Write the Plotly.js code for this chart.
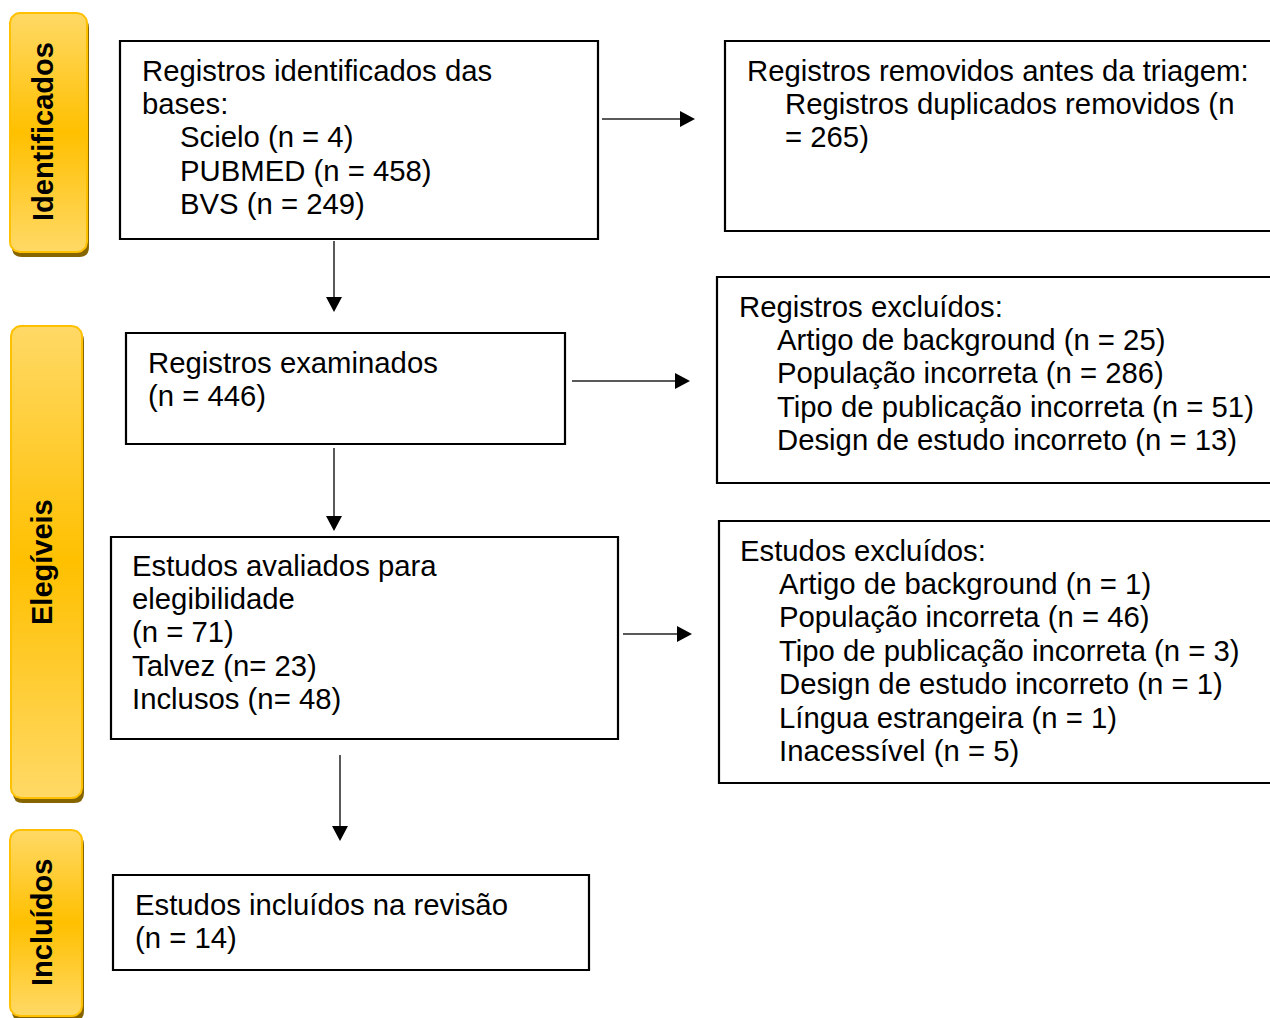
<!DOCTYPE html>
<html><head><meta charset="utf-8">
<script src="https://cdn.plot.ly/plotly-3.0.1.min.js"></script>
<style>html,body{margin:0;padding:0;background:#fff;overflow:hidden}</style>
</head><body>
<div id="chart" style="width:1270px;height:1018px"></div>
<script>
// ---- content ----
const stageLabels = ['Identificados', 'Elegíveis', 'Incluídos'];

const identifiedLines = ['Registros identificados das', 'bases:', 'Scielo (n = 4)', 'PUBMED (n = 458)', 'BVS (n = 249)'];
const removedLines = ['Registros removidos antes da triagem:', 'Registros duplicados removidos (n', '= 265)'];
const screenedLines = ['Registros examinados', '(n = 446)'];
const excludedRecordsLines = ['Registros excluídos:', 'Artigo de background (n = 25)', 'População incorreta (n = 286)', 'Tipo de publicação incorreta (n = 51)', 'Design de estudo incorreto (n = 13)'];
const assessedLines = ['Estudos avaliados para', 'elegibilidade', '(n = 71)', 'Talvez (n= 23)', 'Inclusos (n= 48)'];
const excludedStudiesLines = ['Estudos excluídos:', 'Artigo de background (n = 1)', 'População incorreta (n = 46)', 'Tipo de publicação incorreta (n = 3)', 'Design de estudo incorreto (n = 1)', 'Língua estrangeira (n = 1)', 'Inacessível (n = 5)'];
const includedLines = ['Estudos incluídos na revisão', '(n = 14)'];

// ---- layout geometry (pixels) ----
const FONT = 'Liberation Sans, Arial, Helvetica, sans-serif';
const FS = 29.3;
const LS = 33.4;

const boxes = [
  {lines: identifiedLines, x0: 120, x1: 598, y0: 41, y1: 239, tx: 140, ix: 178, ty: 70, indentFrom: 2},
  {lines: removedLines, x0: 725, x1: 1300, y0: 41, y1: 231, tx: 745, ix: 783, ty: 70, indentFrom: 1},
  {lines: screenedLines, x0: 126, x1: 565, y0: 333, y1: 444, tx: 146, ix: 146, ty: 362, indentFrom: 99},
  {lines: excludedRecordsLines, x0: 717, x1: 1300, y0: 277, y1: 483, tx: 737, ix: 775, ty: 306, indentFrom: 1},
  {lines: assessedLines, x0: 111, x1: 618, y0: 537, y1: 739, tx: 130, ix: 130, ty: 565, indentFrom: 99},
  {lines: excludedStudiesLines, x0: 719, x1: 1300, y0: 521, y1: 783, tx: 738, ix: 777, ty: 550, indentFrom: 1},
  {lines: includedLines, x0: 113, x1: 589, y0: 875, y1: 970, tx: 133, ix: 133, ty: 904, indentFrom: 99}
];

const stages = [
  {x0: 10, x1: 87, y0: 13, y1: 252, cx: 43, cy: 132},
  {x0: 11, x1: 82, y0: 326, y1: 798, cx: 42, cy: 562},
  {x0: 10, x1: 82, y0: 830, y1: 1016, cx: 42, cy: 923}
];

const arrows = [
  {x0: 602, y0: 119, x1: 695, y1: 119},
  {x0: 572, y0: 381, x1: 690, y1: 381},
  {x0: 623, y0: 634, x1: 692, y1: 634},
  {x0: 334, y0: 241, x1: 334, y1: 312},
  {x0: 334, y0: 448, x1: 334, y1: 531},
  {x0: 340, y0: 755, x1: 340, y1: 841}
];

function roundRectPoints(x0, y0, x1, y1, r) {
  const xs = [], ys = [];
  const corners = [
    [x1 - r, y0 + r, -Math.PI / 2, 0],
    [x1 - r, y1 - r, 0, Math.PI / 2],
    [x0 + r, y1 - r, Math.PI / 2, Math.PI],
    [x0 + r, y0 + r, Math.PI, 1.5 * Math.PI]
  ];
  corners.forEach(([cx, cy, a0, a1]) => {
    for (let i = 0; i <= 10; i++) {
      const a = a0 + (a1 - a0) * i / 10;
      xs.push(cx + r * Math.cos(a));
      ys.push(cy + r * Math.sin(a));
    }
  });
  xs.push(xs[0]); ys.push(ys[0]);
  return {xs, ys};
}

function roundRectPath(x0, y0, x1, y1, r) {
  return `M${x0 + r},${y0} L${x1 - r},${y0} Q${x1},${y0} ${x1},${y0 + r} L${x1},${y1 - r} Q${x1},${y1} ${x1 - r},${y1} L${x0 + r},${y1} Q${x0},${y1} ${x0},${y1 - r} L${x0},${y0 + r} Q${x0},${y0} ${x0 + r},${y0} Z`;
}

const traces = [];
const shapes = [];
const annotations = [];

stages.forEach((s, i) => {
  shapes.push({type: 'path', xref: 'x', yref: 'y', layer: 'below',
    path: roundRectPath(s.x0 + 2, s.y0 + 5, s.x1 + 2, s.y1 + 5, 10),
    fillcolor: '#866400', line: {width: 0}});
  const p = roundRectPoints(s.x0, s.y0, s.x1, s.y1, 10);
  traces.push({type: 'scatter', mode: 'lines', x: p.xs, y: p.ys, fill: 'toself',
    fillgradient: {type: 'vertical', colorscale: [[0, '#FFD966'], [0.5, '#FFC000'], [1, '#FFD966']]},
    line: {color: '#FFC000', width: 2}, hoverinfo: 'skip', showlegend: false});
  annotations.push({x: s.cx, y: s.cy, xref: 'x', yref: 'y', text: '<b>' + stageLabels[i] + '</b>',
    textangle: -90, showarrow: false, xanchor: 'center', yanchor: 'middle',
    font: {family: FONT, size: 29, color: '#000'}});
});

boxes.forEach(b => {
  shapes.push({type: 'rect', xref: 'x', yref: 'y', x0: b.x0, x1: b.x1, y0: b.y0, y1: b.y1,
    line: {color: '#000', width: 2.2}, fillcolor: 'rgba(0,0,0,0)'});
  b.lines.forEach((t, j) => {
    annotations.push({x: j >= b.indentFrom ? b.ix : b.tx, y: b.ty + j * LS, xref: 'x', yref: 'y',
      text: t, showarrow: false, xanchor: 'left', yanchor: 'middle',
      font: {family: FONT, size: FS, color: '#000'}});
  });
});

arrows.forEach(a => {
  const L = 15, W = 8;
  if (a.y0 === a.y1) {
    shapes.push({type: 'line', xref: 'x', yref: 'y', x0: a.x0, y0: a.y0, x1: a.x1 - L, y1: a.y1, line: {color: '#222', width: 1.5}});
    shapes.push({type: 'path', xref: 'x', yref: 'y', path: `M${a.x1 - L},${a.y1 - W} L${a.x1},${a.y1} L${a.x1 - L},${a.y1 + W} Z`, fillcolor: '#000', line: {width: 0}});
  } else {
    shapes.push({type: 'line', xref: 'x', yref: 'y', x0: a.x0, y0: a.y0, x1: a.x1, y1: a.y1 - L, line: {color: '#222', width: 1.5}});
    shapes.push({type: 'path', xref: 'x', yref: 'y', path: `M${a.x1 - W},${a.y1 - L} L${a.x1},${a.y1} L${a.x1 + W},${a.y1 - L} Z`, fillcolor: '#000', line: {width: 0}});
  }
});

const layout = {
  width: 1270, height: 1018,
  margin: {l: 0, r: 0, t: 0, b: 0},
  paper_bgcolor: '#fff', plot_bgcolor: '#fff',
  xaxis: {range: [0, 1270], visible: false, fixedrange: true},
  yaxis: {range: [1018, 0], visible: false, fixedrange: true},
  shapes, annotations, showlegend: false
};

Plotly.newPlot('chart', traces, layout, {staticPlot: true, displayModeBar: false});
</script>
</body></html>
